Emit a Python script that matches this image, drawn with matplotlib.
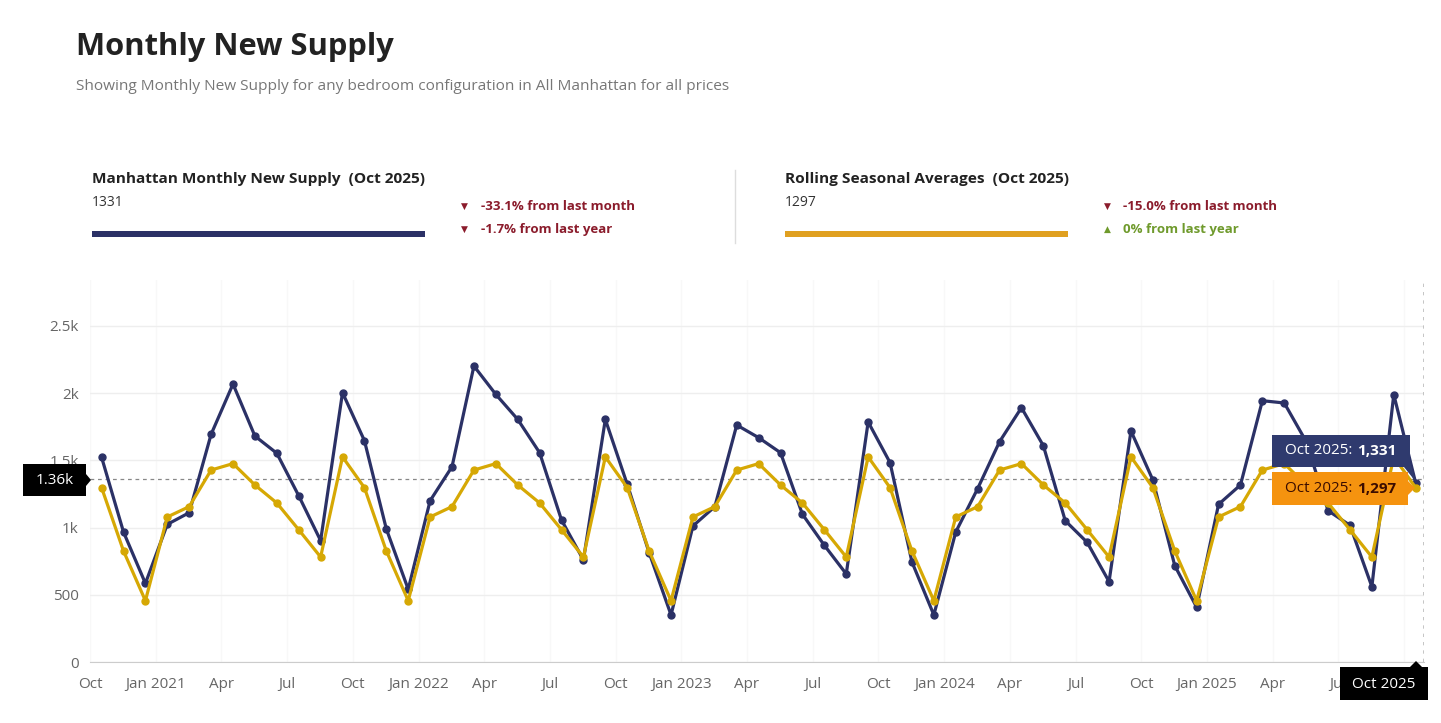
import numpy as np
import pandas as pd
import matplotlib
matplotlib.use('Agg')
import matplotlib.pyplot as plt
from matplotlib.patches import Rectangle, Polygon

plt.rcParams['font.family'] = ['Open Sans', 'DejaVu Sans']

# data
months = pd.date_range('2020-10-01', '2025-10-01', freq='MS')
new_supply = [1523, 967, 585, 1024, 1111, 1694, 2068, 1681, 1553, 1237, 903, 2004,
              1647, 990, 541, 1200, 1453, 2202, 1991, 1805, 1557, 1056, 759, 1805,
              1322, 813, 350, 1012, 1156, 1763, 1669, 1557, 1099, 868, 655, 1786,
              1483, 744, 350, 967, 1290, 1639, 1892, 1609, 1051, 890, 598, 1719,
              1354, 717, 407, 1173, 1317, 1944, 1927, 1640, 1126, 1017, 560, 1990,
              1331]
seasonal_avg = [1297, 826, 456, 1079, 1156, 1428, 1476, 1317, 1183, 984, 781, 1526,
                1297, 826, 456, 1079, 1156, 1428, 1476, 1317, 1183, 984, 781, 1526,
                1297, 826, 456, 1079, 1156, 1428, 1476, 1317, 1183, 984, 781, 1526,
                1297, 826, 456, 1079, 1156, 1428, 1476, 1317, 1183, 984, 781, 1526,
                1297, 826, 456, 1079, 1156, 1428, 1476, 1317, 1183, 984, 781, 1526,
                1297]
y_ticks = [0, 500, 1000, 1500, 2000, 2500]
y_tick_labels = ['0', '500', '1k', '1.5k', '2k', '2.5k']
crosshair_value = 1360

NAVY = '#2b3166'
GOLD = '#d6a804'
GOLD_BAR = '#e0a020'
RED = '#8b1c2c'
GREEN = '#6f9a2c'

W, H = 1441, 723
fig = plt.figure(figsize=(W / 100, H / 100), dpi=100)
fig.patch.set_facecolor('white')


def fx(px):
    return px / W


def fy(py):
    return 1 - py / H


def box(x0, y0, x1, y1, color, **kw):
    fig.add_artist(Rectangle((fx(x0), fy(y1)), fx(x1) - fx(x0), fy(y0) - fy(y1),
                             transform=fig.transFigure, facecolor=color,
                             edgecolor='none', **kw))


def tri(pts, color):
    fig.add_artist(Polygon([(fx(a), fy(b)) for a, b in pts], closed=True,
                           transform=fig.transFigure, facecolor=color, edgecolor='none'))


# header
fig.text(fx(76), fy(47), 'Monthly New Supply', fontsize=22.2, fontweight='bold',
         color='#222222', va='center')
fig.text(fx(76), fy(86), 'Showing Monthly New Supply for any bedroom configuration in All Manhattan for all prices',
         fontsize=11.05, color='#777777', va='center')

# summary cards
fig.text(fx(92), fy(179), 'Manhattan Monthly New Supply  (Oct 2025)', fontsize=11.1,
         fontweight='bold', color='#222222', va='center')
fig.text(fx(92), fy(202), '1331', fontsize=10, color='#333333', va='center')
box(92, 231, 425, 237, NAVY)
fig.text(fx(464), fy(206), '▼', fontsize=6.5, color=RED, va='center', ha='center', family='DejaVu Sans')
fig.text(fx(481), fy(206), '-33.1% from last month', fontsize=9.5, fontweight='bold', color=RED, va='center')
fig.text(fx(464), fy(229), '▼', fontsize=6.5, color=RED, va='center', ha='center', family='DejaVu Sans')
fig.text(fx(481), fy(229), '-1.7% from last year', fontsize=9.5, fontweight='bold', color=RED, va='center')

fig.add_artist(plt.Line2D([fx(735), fx(735)], [fy(170), fy(243)], color='#dddddd', lw=1,
                          transform=fig.transFigure))

fig.text(fx(785), fy(179), 'Rolling Seasonal Averages  (Oct 2025)', fontsize=11.1,
         fontweight='bold', color='#222222', va='center')
fig.text(fx(785), fy(202), '1297', fontsize=10, color='#333333', va='center')
box(785, 231, 1068, 237, GOLD_BAR)
fig.text(fx(1107), fy(206), '▼', fontsize=6.5, color=RED, va='center', ha='center', family='DejaVu Sans')
fig.text(fx(1123), fy(206), '-15.0% from last month', fontsize=9.5, fontweight='bold', color=RED, va='center')
fig.text(fx(1107), fy(229), '▲', fontsize=6.5, color=GREEN, va='center', ha='center', family='DejaVu Sans')
fig.text(fx(1123), fy(229), '0% from last year', fontsize=9.5, fontweight='bold', color=GREEN, va='center')

# chart
ax = fig.add_axes([fx(90), fy(662), fx(1424) - fx(90), fy(280) - fy(662)])
x = np.arange(len(months))
ax.set_xlim(-0.53, len(months) - 0.62)
ax.set_ylim(0, 2842)

ax.plot(x, new_supply, color=NAVY, lw=2.3, marker='o', ms=5, zorder=3)
ax.plot(x, seasonal_avg, color=GOLD, lw=2.3, marker='o', ms=5, zorder=4)

ax.axhline(crosshair_value, color='#888888', lw=0.9, ls=(0, (3, 3)), zorder=2)
ax.axvline(ax.get_xlim()[1], color='#bbbbbb', lw=1.2, ls=(0, (2, 3)), zorder=2)

ax.set_yticks(y_ticks)
ax.set_yticklabels(y_tick_labels)
ax.grid(axis='y', color='#eeeeee', lw=1)

# quarterly ticks at month starts; the last one sits under the crosshair label
tick_pos = []
tick_lab = []
for i, m in enumerate(months[:-1]):
    if m.month in (1, 4, 7, 10):
        tick_pos.append(i - 0.53)
        tick_lab.append(m.strftime('%b %Y') if m.month == 1 else m.strftime('%b'))
ax.set_xticks(tick_pos)
ax.set_xticklabels(tick_lab)
for xt in tick_pos + [len(months) - 1.53]:
    ax.axvline(xt, color='#f8f8f8', lw=1, zorder=0)

ax.tick_params(axis='both', length=0, labelsize=11, labelcolor='#666666')
ax.tick_params(axis='x', pad=11)
ax.tick_params(axis='y', pad=8)
for s in ['top', 'right', 'left']:
    ax.spines[s].set_visible(False)
ax.spines['bottom'].set_color('#cccccc')
ax.set_axisbelow(True)

# crosshair labels and tooltips
box(23, 464, 86, 496, 'black')
tri([(86, 474), (91, 480), (86, 486)], 'black')
fig.text(fx(54.5), fy(480), f'{crosshair_value / 1000:.2f}k', fontsize=11, color='white',
         ha='center', va='center')

box(1340, 667, 1428, 700, 'black')
tri([(1410, 667), (1416, 661), (1422, 667)], 'black')
fig.text(fx(1384), fy(684), months[-1].strftime('%b %Y'), fontsize=11, color='white',
         ha='center', va='center')

box(1272, 435, 1410, 467, '#2f3a6e')
tri([(1410, 462), (1416, 482), (1404, 467)], '#2f3a6e')
fig.text(fx(1352), fy(451), months[-1].strftime('%b %Y') + ':', fontsize=11, color='white',
         ha='right', va='center')
fig.text(fx(1357), fy(451), f'{new_supply[-1]:,}', fontsize=11, color='white',
         fontweight='bold', ha='left', va='center')

box(1272, 472, 1408, 505, '#f5930f')
tri([(1408, 481), (1415, 488), (1408, 495)], '#f5930f')
fig.text(fx(1352), fy(489), months[-1].strftime('%b %Y') + ':', fontsize=11, color='#3a0c00',
         ha='right', va='center')
fig.text(fx(1357), fy(489), f'{seasonal_avg[-1]:,}', fontsize=11, color='#3a0c00',
         fontweight='bold', ha='left', va='center')

plt.savefig('out.png', dpi=100, facecolor='white')
